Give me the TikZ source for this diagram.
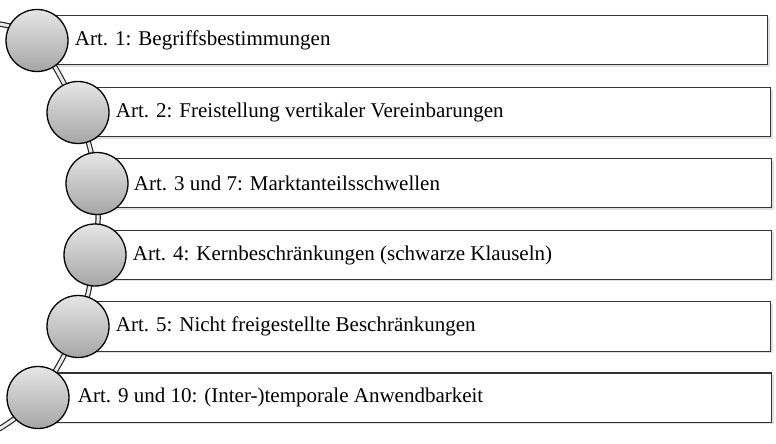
\documentclass[tikz,border=0pt]{standalone}
\usepackage{fontspec}
\setmainfont{Liberation Serif}
\usetikzlibrary{positioning, shadows}

\begin{document}
\begin{tikzpicture}[x=1bp, y=-1bp,
    box/.style={rectangle, draw=black!80, line width=1bp, fill=white,
        minimum height=49bp, anchor=west,
        drop shadow={opacity=0.25, shadow xshift=2bp, shadow yshift=-2bp}},
    knob/.style={circle, draw=black, line width=1.3bp, minimum size=62bp,
        inner sep=0pt, top color=gray!20, bottom color=gray!70},
    artikel/.style={inner sep=0pt, text=black,
        font=\fontsize{21bp}{24bp}\selectfont},
    spine/.style={draw=black!85, line width=1.2bp, double=gray!15,
        double distance=3bp}
]
    \useasboundingbox (0,0) rectangle (776,444);

    % Boxes ------------------------------------------------------

    \node[box, minimum width=730bp] (b1) at (37,40.5) {};
    \node[box, minimum width=692bp] (b2) at (78,112.5) {};
    \node[box, minimum width=674bp] (b3) at (97,183.5) {};
    \node[box, minimum width=676bp] (b4) at (95,255) {};
    \node[box, minimum width=692bp] (b5) at (78,326.5) {};
    \node[box, minimum width=733bp] (b6) at (38,397.5) {};

    % Spine ------------------------------------------------------

    \coordinate (top) at (-1,24);
    \coordinate (bottom) at (-1,429);
    \draw[spine] plot[smooth, tension=0.55] coordinates {(top) (b1.west) (b2.west)
        (b3.west) (b4.west) (b5.west) (b6.west) (bottom)};

    % Circles ----------------------------------------------------

    \node[knob] (c1) at (b1.west) {};
    \node[knob] (c2) at (b2.west) {};
    \node[knob] (c3) at (b3.west) {};
    \node[knob] (c4) at (b4.west) {};
    \node[knob] (c5) at (b5.west) {};
    \node[knob] (c6) at (b6.west) {};

    % Labels -----------------------------------------------------

    \node[artikel, right=6bp of c1] (t1) {Art. 1: Begriffsbestimmungen};
    \node[artikel, right=6bp of c2] (t2) {Art. 2: Freistellung vertikaler Vereinbarungen};
    \node[artikel, right=5bp of c3] (t3) {Art. 3 und 7: Marktanteilsschwellen};
    \node[artikel, right=6bp of c4] (t4) {Art. 4: Kernbeschränkungen (schwarze Klauseln)};
    \node[artikel, right=6bp of c5] (t5) {Art. 5: Nicht freigestellte Beschränkungen};
    \node[artikel, right=8bp of c6] (t6) {Art. 9 und 10: (Inter-)temporale Anwendbarkeit};

\end{tikzpicture}
\end{document}
